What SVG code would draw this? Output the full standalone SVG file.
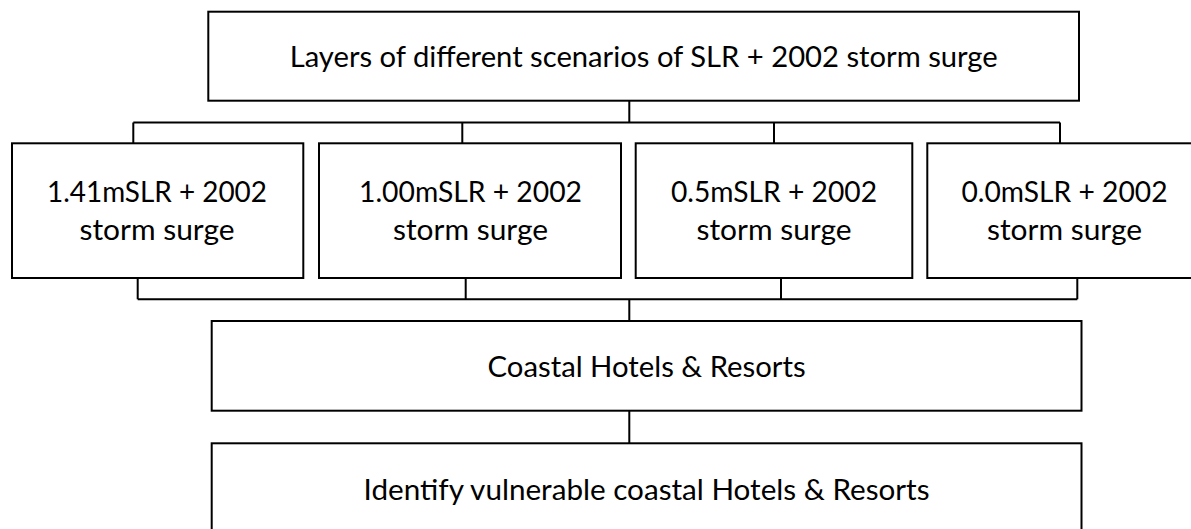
<svg xmlns="http://www.w3.org/2000/svg" width="1191" height="529" viewBox="0 0 1191 529">
<style>
.box{fill:#fff;stroke:#000;stroke-width:2}
.con{fill:none;stroke:#000;stroke-width:2}
text{font-family:Lato,"Open Sans","Liberation Sans",sans-serif;font-size:29px;fill:#000;text-anchor:middle}
</style>
<rect width="1191" height="529" fill="#fff"/>
<g id="connectors">
<path class="con" d="M629.3,100.7V122.5M133.3,122.5H1060M133.3,122.5V143.3M462.3,122.5V143.3M774,122.5V143.3M1060,122.5V143.3"/>
<path class="con" d="M137.7,278V299.3M465.7,278V299.3M781,278V299.3M1077.3,278V299.3M137.7,299.3H1077.3M629.3,299.3V321M629.3,410.7V443.3"/>
</g>
<g id="top">
<rect class="box" x="208.3" y="11.7" width="870.7" height="89"/>
<text x="643.7" y="67" textLength="708" lengthAdjust="spacingAndGlyphs">Layers of different scenarios of SLR + 2002 storm surge</text>
</g>
<g id="s141">
<rect class="box" x="12" y="143.3" width="291.3" height="134.7"/>
<text x="157" y="201.5" textLength="220" lengthAdjust="spacingAndGlyphs">1.41mSLR + 2002</text>
<text x="157" y="240" textLength="155" lengthAdjust="spacingAndGlyphs">storm surge</text>
</g>
<g id="s100">
<rect class="box" x="319" y="143.3" width="302" height="134.7"/>
<text x="470.5" y="201.5" textLength="223" lengthAdjust="spacingAndGlyphs">1.00mSLR + 2002</text>
<text x="470.5" y="240" textLength="155" lengthAdjust="spacingAndGlyphs">storm surge</text>
</g>
<g id="s05">
<rect class="box" x="635.7" y="143.3" width="276.6" height="134.7"/>
<text x="774" y="201.5" textLength="206" lengthAdjust="spacingAndGlyphs">0.5mSLR + 2002</text>
<text x="774" y="240" textLength="155" lengthAdjust="spacingAndGlyphs">storm surge</text>
</g>
<g id="s00">
<rect class="box" x="927.3" y="143.3" width="275" height="134.7"/>
<text x="1064.5" y="201.5" textLength="206" lengthAdjust="spacingAndGlyphs">0.0mSLR + 2002</text>
<text x="1064.5" y="240" textLength="155" lengthAdjust="spacingAndGlyphs">storm surge</text>
</g>
<g id="hotels">
<rect class="box" x="211.7" y="321" width="869.8" height="89.7"/>
<text x="646.6" y="376.5" textLength="318" lengthAdjust="spacingAndGlyphs">Coastal Hotels &amp; Resorts</text>
</g>
<g id="identify">
<rect class="box" x="211.7" y="443.3" width="869.8" height="100"/>
<text x="646.6" y="500" textLength="566" lengthAdjust="spacingAndGlyphs">Identify vulnerable coastal Hotels &amp; Resorts</text>
</g>
</svg>
